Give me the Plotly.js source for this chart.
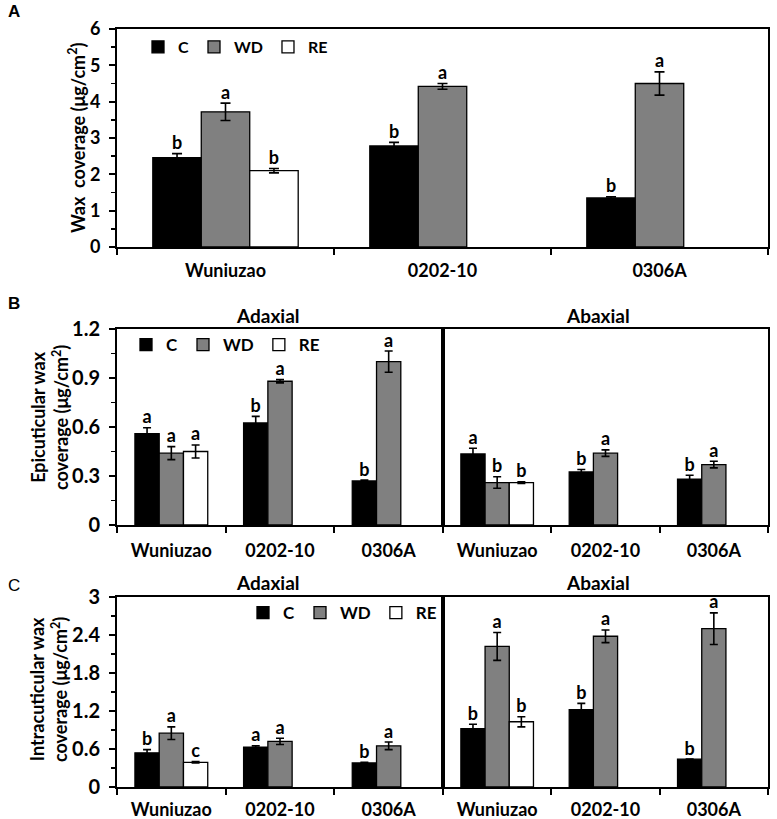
<!DOCTYPE html>
<html>
<head>
<meta charset="utf-8">
<script src="https://cdn.plot.ly/plotly-3.0.1.min.js"></script>
<style>html,body{margin:0;padding:0;background:#fff;}#chart{width:777px;height:819px;}</style>
</head>
<body>
<div id="chart"></div>
<script>
// ---------- DATA ----------
const categories = ['Wuniuzao', '0202-10', '0306A'];
const seriesNames = ['C', 'WD', 'RE'];

// Panel A: total wax coverage
const A_C = [2.46, 2.78, 1.35];      const A_C_err = [0.11, 0.10, 0.03];
const A_WD = [3.72, 4.42, 4.50];     const A_WD_err = [0.24, 0.08, 0.32];
const A_RE = [2.10, null, null];     const A_RE_err = [0.06, null, null];
const A_C_let = ['b', 'b', 'b'];  const A_WD_let = ['a', 'a', 'a'];  const A_RE_let = ['b', null, null];

// Panel B: epicuticular wax, adaxial
const Bad_C = [0.56, 0.625, 0.27];   const Bad_C_err = [0.035, 0.04, 0.005];
const Bad_WD = [0.44, 0.88, 1.00];   const Bad_WD_err = [0.04, 0.01, 0.065];
const Bad_RE = [0.45, null, null];   const Bad_RE_err = [0.04, null, null];
const Bad_C_let = ['a', 'b', 'b'];  const Bad_WD_let = ['a', 'a', 'a'];  const Bad_RE_let = ['a', null, null];
// Panel B: epicuticular wax, abaxial
const Bab_C = [0.435, 0.325, 0.28];  const Bab_C_err = [0.035, 0.015, 0.025];
const Bab_WD = [0.26, 0.44, 0.37];   const Bab_WD_err = [0.035, 0.02, 0.02];
const Bab_RE = [0.26, null, null];   const Bab_RE_err = [0.005, null, null];
const Bab_C_let = ['a', 'b', 'b'];  const Bab_WD_let = ['b', 'a', 'a'];  const Bab_RE_let = ['b', null, null];

// Panel C: intracuticular wax, adaxial
const Cad_C = [0.54, 0.63, 0.38];    const Cad_C_err = [0.05, 0.02, 0.01];
const Cad_WD = [0.85, 0.72, 0.65];   const Cad_WD_err = [0.10, 0.05, 0.06];
const Cad_RE = [0.39, null, null];   const Cad_RE_err = [0.01, null, null];
const Cad_C_let = ['b', 'a', 'b'];  const Cad_WD_let = ['a', 'a', 'a'];  const Cad_RE_let = ['c', null, null];
// Panel C: intracuticular wax, abaxial
const Cab_C = [0.92, 1.22, 0.44];    const Cab_C_err = [0.07, 0.10, 0.0];
const Cab_WD = [2.22, 2.38, 2.50];   const Cab_WD_err = [0.22, 0.10, 0.25];
const Cab_RE = [1.03, null, null];   const Cab_RE_err = [0.08, null, null];
const Cab_C_let = ['b', 'b', 'b'];  const Cab_WD_let = ['a', 'a', 'a'];  const Cab_RE_let = ['b', null, null];

// ---------- STYLE ----------
const FONT = 'Lato, "Open Sans", "DejaVu Sans", sans-serif';
const fills = {C: '#000000', WD: '#808080', RE: '#ffffff'};
const W = 777, H = 819;
const px = v => v / W;
const py = v => 1 - v / H;

const panels = [
  {xa: 'x',  ya: 'y',  legend: 'legend',  cap: 5, vals: [A_C, A_WD, A_RE],   errs: [A_C_err, A_WD_err, A_RE_err],   lets: [A_C_let, A_WD_let, A_RE_let]},
  {xa: 'x2', ya: 'y2', legend: 'legend2', cap: 4, vals: [Bad_C, Bad_WD, Bad_RE], errs: [Bad_C_err, Bad_WD_err, Bad_RE_err], lets: [Bad_C_let, Bad_WD_let, Bad_RE_let]},
  {xa: 'x3', ya: 'y3', legend: null,      cap: 4, vals: [Bab_C, Bab_WD, Bab_RE], errs: [Bab_C_err, Bab_WD_err, Bab_RE_err], lets: [Bab_C_let, Bab_WD_let, Bab_RE_let]},
  {xa: 'x4', ya: 'y4', legend: 'legend3', cap: 4, vals: [Cad_C, Cad_WD, Cad_RE], errs: [Cad_C_err, Cad_WD_err, Cad_RE_err], lets: [Cad_C_let, Cad_WD_let, Cad_RE_let]},
  {xa: 'x5', ya: 'y5', legend: null,      cap: 4, vals: [Cab_C, Cab_WD, Cab_RE], errs: [Cab_C_err, Cab_WD_err, Cab_RE_err], lets: [Cab_C_let, Cab_WD_let, Cab_RE_let]}
];

const traces = [];
panels.forEach((p, pi) => {
  seriesNames.forEach((s, si) => {
    traces.push({
      type: 'bar', name: s, x: categories, y: p.vals[si],
      xaxis: p.xa, yaxis: p.ya,
      offsetgroup: s, alignmentgroup: 'g' + pi,
      marker: {color: fills[s], line: {color: '#000', width: 1.3}},
      error_y: {type: 'data', array: p.errs[si], visible: true, color: '#000', thickness: 1.6, width: p.cap},
      showlegend: p.legend !== null,
      legend: p.legend || 'legend',
      hoverinfo: 'skip'
    });
  });
  seriesNames.forEach((s, si) => {
    const keep = p.vals[si].map((v, i) => v !== null && p.lets[si][i] !== null);
    const ty = p.vals[si].map((v, i) => keep[i] ? v + (p.errs[si][i] || 0) : null);
    traces.push({
      type: 'scatter', mode: 'text', x: categories, y: ty,
      text: p.lets[si].map(t => t === null ? ' ' : t),
      xaxis: p.xa, yaxis: p.ya,
      offsetgroup: s, alignmentgroup: 'g' + pi,
      textposition: 'top center',
      textfont: {family: FONT, size: 18, weight: 'bold', color: '#000'},
      cliponaxis: false, showlegend: false, hoverinfo: 'skip'
    });
  });
});

// ---------- AXES ----------
const xBase = (dom, y, standoff) => ({
  domain: dom, anchor: y, type: 'category', categoryorder: 'array', categoryarray: categories,
  showline: true, linecolor: '#000', linewidth: 2, mirror: true,
  ticks: 'outside', tickson: 'boundaries', ticklen: 6, tickwidth: 2, tickcolor: '#000',
  tickfont: {family: FONT, size: 18, weight: 'bold', color: '#000'},
  ticklabelstandoff: standoff, showgrid: false, zeroline: false, fixedrange: true
});
const yBase = (dom, x, range, dtick, minor, size, labels) => ({
  domain: dom, anchor: x, range: range, dtick: dtick, tick0: 0,
  showline: true, linecolor: '#000', linewidth: 2, mirror: true,
  ticks: labels ? 'outside' : '', ticklen: 6, tickwidth: 2, tickcolor: '#000',
  minor: labels ? {dtick: minor, ticks: 'outside', ticklen: 4, tickwidth: 1.5, tickcolor: '#000'} : undefined,
  showticklabels: labels,
  tickfont: {family: FONT, size: size, weight: 'bold', color: '#000'},
  ticklabelstandoff: 5, showgrid: false, zeroline: false, fixedrange: true
});

const xL = [px(117), px(443)], xR = [px(443), px(768)], xFull = [px(117), px(768)];
const yA = [py(247), py(29)], yB = [py(525), py(329)], yC = [py(787), py(597)];

const legendBase = (x, y, size) => ({
  x: x, y: y, xanchor: 'left', yanchor: 'middle', orientation: 'h',
  font: {family: FONT, size: size, weight: 'bold', color: '#000'},
  bgcolor: 'rgba(0,0,0,0)', itemwidth: 30, tracegroupgap: 0,
  itemclick: false, itemdoubleclick: false
});

const ann = (text, x, y, size, opts) => Object.assign({
  text: text, xref: 'paper', yref: 'paper', x: px(x), y: py(y),
  xanchor: 'center', yanchor: 'middle', showarrow: false,
  font: {family: FONT, size: size, weight: 'bold', color: '#000'}
}, opts || {});
const LBL = (w) => ({font: {family: '"Liberation Sans", Arial, sans-serif', size: 17, weight: w, color: '#000'}});

const layout = {
  width: W, height: H, margin: {l: 0, r: 0, t: 0, b: 0},
  paper_bgcolor: '#fff', plot_bgcolor: 'rgba(0,0,0,0)',
  barmode: 'group', bargap: 0.33, bargroupgap: 0,
  scattermode: 'group', scattergap: 0.33,
  hovermode: false, showlegend: true,
  xaxis: xBase(xFull, 'y', 6),
  yaxis: yBase(yA, 'x', [0, 6], 1, 0.5, 18, true),
  xaxis2: xBase(xL, 'y2', 8),
  yaxis2: yBase(yB, 'x2', [0, 1.2], 0.3, 0.15, 20, true),
  xaxis3: xBase(xR, 'y3', 8),
  yaxis3: yBase(yB, 'x3', [0, 1.2], 0.3, 0.15, 20, false),
  xaxis4: xBase(xL, 'y4', 5),
  yaxis4: yBase(yC, 'x4', [0, 3], 0.6, 0.3, 20, true),
  xaxis5: xBase(xR, 'y5', 5),
  yaxis5: yBase(yC, 'x5', [0, 3], 0.6, 0.3, 20, false),
  legend: legendBase(px(138), py(47), 16),
  legend2: legendBase(px(126), py(345), 17),
  legend3: legendBase(px(243), py(613), 17),
  annotations: [
    ann('A', 14, 12, 17, LBL('bold')),
    ann('B', 14, 303, 17, LBL('bold')),
    ann('C', 14, 585, 17, LBL('normal')),
    ann('Wax  coverage (μg/cm<sup>2</sup>)', 77, 138, 18, {textangle: -90}),
    ann('Epicuticular wax<br>coverage (μg/cm<sup>2</sup>)', 50, 418, 18, {textangle: -90}),
    ann('Intracuticular wax<br>coverage (μg/cm<sup>2</sup>)', 48, 690, 18, {textangle: -90}),
    ann('Adaxial', 268, 315, 19),
    ann('Abaxial', 598, 315, 19),
    ann('Adaxial', 268, 582, 19),
    ann('Abaxial', 598, 582, 19)
  ]
};

Plotly.newPlot('chart', traces, layout, {staticPlot: true, displayModeBar: false});
</script>
</body>
</html>
